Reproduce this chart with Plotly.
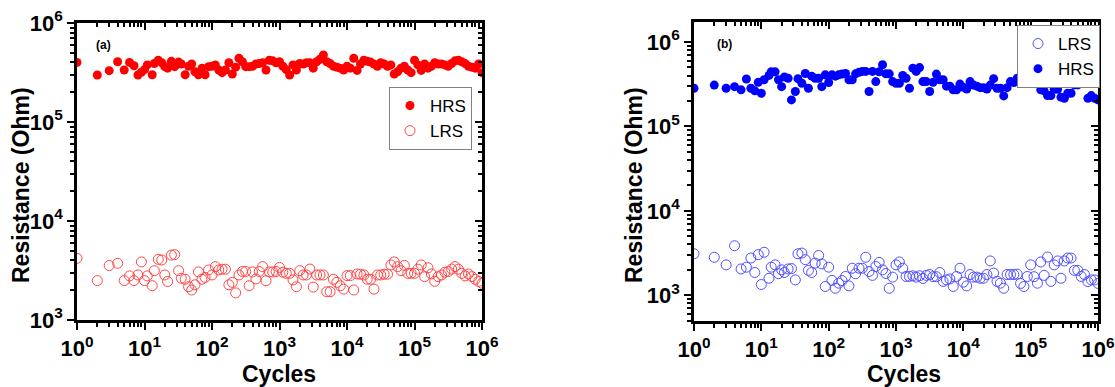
import plotly.graph_objects as go

# Switching cycles shared by both devices
CYCLES = [1, 2, 3, 4, 5, 6, 7, 8, 9,
          10, 11, 13, 14, 16, 18, 20, 22, 25, 28, 32, 35, 40, 45, 50, 56, 63, 71, 79, 89,
          100, 112, 126, 141, 158, 178, 200, 224, 251, 282, 316, 355, 398, 447, 501, 562, 631, 708, 794, 891,
          1000, 1122, 1259, 1413, 1585, 1778, 1995, 2239, 2512, 2818, 3162, 3548, 3981, 4467, 5012, 5623,
          6310, 7079, 7943, 8913,
          10000, 11220, 12589, 14125, 15849, 17783, 19953, 22387, 25119, 28184, 31623, 35481, 39811, 44668,
          50119, 56234, 63096, 70795, 79433, 89125,
          100000, 112202, 125893, 141254, 158489, 177828, 199526, 223872, 251189, 281838, 316228, 354813,
          398107, 446684, 501187, 562341, 630957, 707946, 794328, 891251,
          1000000]

# Device (a)
HRS_A = [400000, 298000, 330000, 406000, 335000, 400000, 370000, 298000, 318000,
         338000, 377000, 300000, 390000, 420000, 397000, 362000, 350000, 410000, 362000,
         403000, 385000, 300000, 366000, 385000, 322000, 300000, 350000, 300000, 362000,
         366000, 377000, 335000, 315000, 335000, 397000, 305000, 358000, 440000, 406000,
         362000, 362000, 366000, 385000, 390000, 397000, 335000, 420000, 415000, 397000,
         406000, 366000, 338000, 298000, 377000, 335000, 390000, 385000, 397000, 397000,
         350000, 406000, 430000, 475000, 406000, 390000, 366000, 358000, 350000, 335000,
         366000, 350000, 440000, 332000, 385000, 420000, 410000, 403000, 385000, 366000,
         397000, 385000, 366000, 377000, 305000, 322000, 350000, 366000, 335000, 315000,
         420000, 377000, 332000, 385000, 350000, 366000, 397000, 385000, 385000, 377000,
         366000, 390000, 415000, 420000, 406000, 390000, 366000, 358000, 350000, 385000,
         315000]
LRS_A = [4200, 2500, 3550, 3740, 2500, 2790, 2500, 2850, 3860,
         2500, 2790, 2220, 3150, 4100, 4040, 2850, 2450, 4530, 4570,
         3150, 2640, 2580, 2170, 2010, 2270, 3060, 2580, 2690, 3200,
         2850, 3460, 3200, 3260, 3260, 2270, 2400, 1880, 2850, 3090,
         3090, 2220, 3060, 2600, 3090, 3460, 2490, 3060, 3060, 3090,
         3400, 3040, 2960, 2960, 2540, 2170, 3150, 2850, 2850, 3270,
         2150, 2850, 2850, 2850, 1930, 1930, 2580, 2400, 2220, 2050,
         2810, 2810, 2010, 2920, 2900, 2850, 2580, 2580, 2050, 2850,
         2850, 2900, 2900, 3600, 3860, 3460, 3150, 3560, 2960, 2960,
         2960, 3260, 3600, 2740, 3370, 2920, 2460, 2740, 2850, 3040,
         3090, 3270, 3460, 3260, 2960, 2790, 2920, 2740, 2580, 2450,
         2350]

# Device (b)
HRS_B = [283000, 309000, 283000, 296000, 271000, 365000, 283000, 264000, 333000,
         247000, 357000, 402000, 443000, 443000, 357000, 296000, 386000, 372000, 206000,
         259000, 368000, 325000, 424000, 283000, 394000, 372000, 372000, 296000, 408000,
         331000, 408000, 394000, 408000, 417000, 424000, 357000, 357000, 420000, 437000,
         448000, 448000, 259000, 448000, 340000, 443000, 537000, 420000, 420000, 340000,
         325000, 325000, 402000, 372000, 283000, 490000, 448000, 498000, 340000, 340000,
         259000, 333000, 417000, 357000, 357000, 300000, 300000, 271000, 271000, 317000,
         291000, 277000, 340000, 309000, 300000, 288000, 288000, 277000, 309000, 368000,
         283000, 283000, 230000, 288000, 340000, 331000, 372000, 372000, 325000, 357000,
         357000, 357000, 333000, 271000, 264000, 232000, 232000, 275000, 275000, 222000,
         215000, 247000, 247000, 310000, 310000, 357000, 357000, 215000, 232000, 215000,
         206000]
LRS_B = [3100, 2820, 2290, 3860, 2050, 2150, 2760, 1860, 3030,
         1340, 3230, 1590, 2150, 2290, 1800, 2000, 1860, 2050, 2070,
         1520, 3100, 3160, 2640, 1970, 1860, 2400, 2960, 2350, 1270,
         2150, 1500, 1210, 1390, 1490, 1670, 1290, 2090, 1800, 2090,
         2090, 2820, 1910, 1720, 2190, 2450, 2000, 1810, 1210, 1640,
         2290, 2480, 2090, 1670, 1670, 1700, 1640, 1700, 1580, 1720,
         1760, 1660, 1660, 1860, 1460, 1520, 1560, 1270, 1670, 2090,
         1430, 1290, 1760, 1640, 1640, 1590, 1590, 1760, 2550, 1830,
         1460, 1390, 1210, 1760, 1760, 1760, 1780, 1380, 1270, 1670,
         2290, 1660, 1390, 2480, 1720, 2840, 1460, 2290, 2550, 1590,
         2550, 2760, 2760, 1970, 1970, 1670, 1760, 1450, 1520, 1520,
         1380]

X_DECADES = [0, 1, 2, 3, 4, 5, 6]
Y_DECADES = [3, 4, 5, 6]

W, H = 1115, 387
FONT = "Liberation Sans, Arial, sans-serif"

RED = "rgb(255,0,0)"
RED_OPEN = "rgb(255,70,70)"
BLUE = "rgb(0,0,255)"
BLUE_OPEN = "rgb(80,80,255)"


def px_x(p):
    return p / W


def px_y(p):
    return 1 - p / H


def pow_labels(decades):
    return ["10<sup>%d</sup>" % d for d in decades]


fig = go.Figure()

# Panel (a): HRS then LRS
fig.add_trace(go.Scatter(x=CYCLES, y=HRS_A, mode="markers", name="HRS",
                         marker=dict(symbol="circle", size=9, color=RED, line=dict(width=0)),
                         xaxis="x", yaxis="y", legend="legend"))
fig.add_trace(go.Scatter(x=CYCLES, y=LRS_A, mode="markers", name="LRS",
                         marker=dict(symbol="circle-open", size=10, color=RED_OPEN, line=dict(width=1)),
                         xaxis="x", yaxis="y", legend="legend"))

# Panel (b): LRS then HRS
fig.add_trace(go.Scatter(x=CYCLES, y=LRS_B, mode="markers", name="LRS",
                         marker=dict(symbol="circle-open", size=10, color=BLUE_OPEN, line=dict(width=1)),
                         xaxis="x2", yaxis="y2", legend="legend2"))
fig.add_trace(go.Scatter(x=CYCLES, y=HRS_B, mode="markers", name="HRS",
                         marker=dict(symbol="circle", size=9, color=BLUE, line=dict(width=0)),
                         xaxis="x2", yaxis="y2", legend="legend2"))

# empty traces so the mirrored frame axes get drawn
for xa, ya in [("x3", "y"), ("x", "y3"), ("x4", "y2"), ("x2", "y4")]:
    fig.add_trace(go.Scatter(x=[], y=[], xaxis=xa, yaxis=ya, showlegend=False, hoverinfo="skip"))

tickfont = dict(family=FONT, size=22, color="black", weight="bold")
LINE_W = 2.6


def frame_axis(ticks, labels, rng, **kw):
    d = dict(type="log", range=rng, showline=True, linecolor="black", linewidth=LINE_W,
             showgrid=False, zeroline=False, ticks=ticks, ticklen=7, tickwidth=2,
             tickcolor="black", tickmode="array",
             minor=dict(ticks=ticks, ticklen=4, tickwidth=1.5, tickcolor="black",
                        dtick="D1", showgrid=False),
             automargin=False)
    if labels is None:
        d["showticklabels"] = False
        d["tickvals"] = [10 ** v for v in kw.pop("vals")]
    else:
        d["tickvals"] = [10 ** v for v in labels]
        d["ticktext"] = pow_labels(labels)
        d["tickfont"] = tickfont
    d.update(kw)
    return d


XR = [0, 6]
YR_A = [3, 6]
YR_B = [2.695, 6.237]

dom_xa = [px_x(77), px_x(482)]
dom_ya = [px_y(320), px_y(23)]
dom_xb = [px_x(694), px_x(1098)]
dom_yb = [px_y(321), px_y(22)]

fig.update_layout(
    width=W, height=H, margin=dict(l=0, r=0, t=0, b=0),
    plot_bgcolor="white", paper_bgcolor="white",
    xaxis=frame_axis("outside", X_DECADES, XR, domain=dom_xa, anchor="y"),
    yaxis=frame_axis("outside", Y_DECADES, YR_A, domain=dom_ya, anchor="x"),
    xaxis3=frame_axis("inside", None, XR, vals=X_DECADES, overlaying="x", side="top", anchor="y"),
    yaxis3=frame_axis("inside", None, YR_A, vals=Y_DECADES, overlaying="y", side="right", anchor="x"),
    xaxis2=frame_axis("outside", X_DECADES, XR, domain=dom_xb, anchor="y2"),
    yaxis2=frame_axis("outside", Y_DECADES, YR_B, domain=dom_yb, anchor="x2"),
    xaxis4=frame_axis("inside", None, XR, vals=X_DECADES, overlaying="x2", side="top", anchor="y2"),
    yaxis4=frame_axis("inside", None, YR_B, vals=Y_DECADES, overlaying="y2", side="right", anchor="x2"),
    legend=dict(x=px_x(389), y=px_y(87), xanchor="left", yanchor="top",
                bordercolor="#808080", borderwidth=1, bgcolor="white",
                font=dict(family=FONT, size=17, color="black"), tracegroupgap=0),
    legend2=dict(x=px_x(1017), y=px_y(25), xanchor="left", yanchor="top",
                 bordercolor="#808080", borderwidth=1, bgcolor="white",
                 font=dict(family=FONT, size=17, color="black"), tracegroupgap=0),
)

title_font = dict(family=FONT, size=23, color="black", weight="bold")
annotations = [
    dict(text="Cycles", x=px_x(279), y=px_y(374), font=title_font),
    dict(text="Cycles", x=px_x(904), y=px_y(374), font=title_font),
    dict(text="Resistance (Ohm)", x=px_x(21), y=px_y(185), textangle=-90, font=title_font),
    dict(text="Resistance (Ohm)", x=px_x(634), y=px_y(185), textangle=-90, font=title_font),
    dict(text="(a)", x=px_x(103), y=px_y(45), font=dict(family=FONT, size=12, color="black", weight="bold")),
    dict(text="(b)", x=px_x(724), y=px_y(44), font=dict(family=FONT, size=12, color="black", weight="bold")),
]
for a in annotations:
    a.update(xref="paper", yref="paper", showarrow=False, xanchor="center", yanchor="middle",
             borderpad=0)
fig.update_layout(annotations=annotations)

fig.write_html("out.html")
